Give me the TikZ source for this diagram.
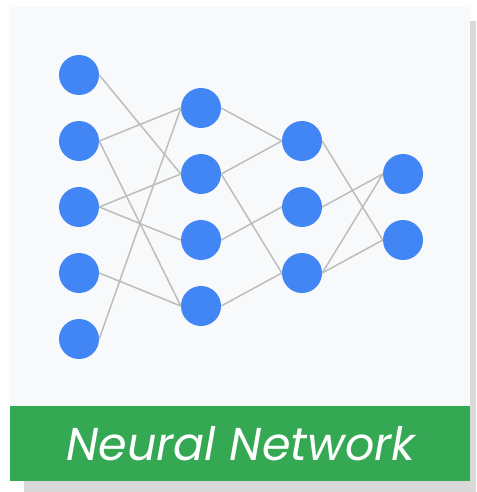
\documentclass[tikz,border=0pt]{standalone}
\usepackage{fontspec}
\newfontfamily\labelfont{Poppins}
\definecolor{cardbg}{HTML}{F8F9FA}
\definecolor{shadowgray}{HTML}{D9D9D9}
\definecolor{neuronblue}{HTML}{4285F4}
\definecolor{bannergreen}{HTML}{34A853}
\definecolor{edgegray}{HTML}{BDBDBD}
\tikzset{
  neuron/.style={circle, fill=neuronblue, minimum size=40pt, inner sep=0pt},
  synapse/.style={edgegray, line width=1.5pt}
}
\begin{document}
\begin{tikzpicture}[x=1pt, y=-1pt]
            \useasboundingbox (0,0) rectangle (476,492);
            % Card and shadow
            \fill[shadowgray] (24,21) rectangle (476,492);
            \fill[cardbg] (10,7) rectangle (470,481);
            \fill[bannergreen] (10,406) rectangle (470,481);
            \node (title) at (241,444) {\labelfont\itshape\fontsize{46}{50}\selectfont\color{white}Neural Network};
            % Neurons
            \foreach \i/\y in {1/75, 2/141, 3/207, 4/273, 5/339}
                \node[neuron] (a\i) at (79,\y) {};
            \foreach \i/\y in {1/108, 2/174, 3/240, 4/306}
                \node[neuron] (b\i) at (201,\y) {};
            \foreach \i/\y in {1/141, 2/207, 3/273}
                \node[neuron] (c\i) at (302,\y) {};
            \foreach \i/\y in {1/174, 2/240}
                \node[neuron] (d\i) at (403,\y) {};
            % Connections
            \foreach \s/\t in {a1/b2, a2/b1, a2/b4, a3/b2, a3/b3, a4/b4, a5/b1,
                               b1/c1, b2/c1, b2/c3, b3/c2, b4/c3,
                               c1/d2, c2/d1, c3/d1, c3/d2}
                \draw[synapse] (\s.east) -- (\t.west);
\end{tikzpicture}
\end{document}
